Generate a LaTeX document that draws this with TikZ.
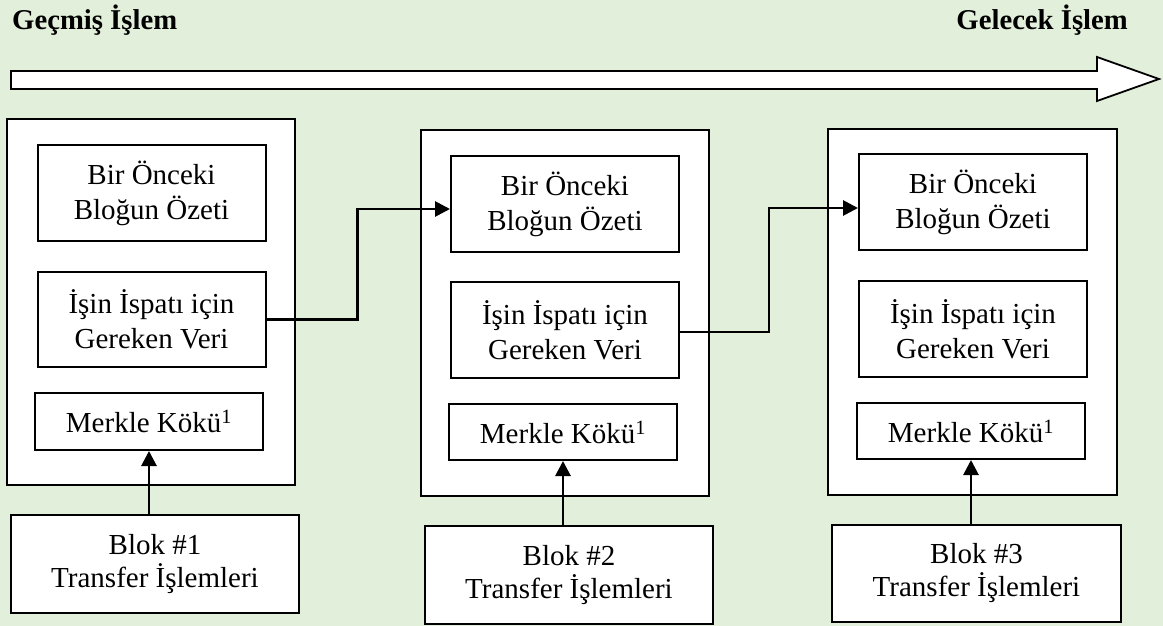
\documentclass[tikz,border=0pt]{standalone}
\usepackage{fontspec}
\setmainfont{Liberation Serif}
\usetikzlibrary{arrows.meta,calc}
\definecolor{bggreen}{HTML}{E2EFDA}
\tikzset{
  outerbox/.style={draw=black, fill=white, line width=2pt, minimum width=288pt, minimum height=366pt, inner sep=0pt},
  innerbox/.style={draw=black, fill=white, line width=2pt, minimum width=228pt, minimum height=96pt, inner sep=0pt, align=center, font=\fontsize{29}{35}\selectfont},
  merklebox/.style={draw=black, fill=white, line width=2pt, minimum width=228pt, minimum height=57pt, inner sep=0pt, align=center, font=\fontsize{29}{35}\selectfont},
  blokbox/.style={draw=black, fill=white, line width=2pt, minimum width=288pt, minimum height=98pt, inner sep=0pt, align=center, font=\fontsize{29}{33}\selectfont},
  titletext/.style={font=\fontsize{28.7}{34}\selectfont\bfseries, inner sep=0pt},
  conn/.style={line width=2.8pt, -{Triangle[length=15pt,width=15pt]}},
}
\begin{document}
\begin{tikzpicture}[x=1pt,y=-1pt]
\fill[bggreen] (0,0) rectangle (1163,626);
\useasboundingbox (0,0) rectangle (1163,626);

% titles
\node[titletext, anchor=base west] (past) at (12,30) {Geçmiş İşlem};
\node[titletext, anchor=base east] (future) at (1128,30) {Gelecek İşlem};

% timeline arrow
\draw[line width=1.8pt, fill=white, line join=miter]
  (11,71) -- (1097,71) -- (1097,57) -- (1159,79) -- (1097,101) -- (1097,89) -- (11,89) -- cycle;

% block 1
\node[outerbox] (o1) at (151,302) {};
\node[innerbox] (a1) at (151.5,193) {Bir Önceki\\Bloğun Özeti};
\node[innerbox, minimum height=95pt] (b1) at (151.5,319.5) {İşin İspatı için\\Gereken Veri};
\node[merklebox] (m1) at (149,421.5) {Merkle Kökü\textsuperscript{1}};
\node[blokbox] (t1) at (155,564) {Blok \#1\\Transfer İşlemleri};

% block 2
\node[outerbox] (o2) at (565,313) {};
\node[innerbox] (a2) at (565,204) {Bir Önceki\\Bloğun Özeti};
\node[innerbox] (b2) at (565,330) {İşin İspatı için\\Gereken Veri};
\node[merklebox, minimum height=56pt] (m2) at (563,432) {Merkle Kökü\textsuperscript{1}};
\node[blokbox] (t2) at (569,575) {Blok \#2\\Transfer İşlemleri};

% block 3
\node[outerbox, minimum width=289pt] (o3) at (972.5,312) {};
\node[innerbox] (a3) at (973,202) {Bir Önceki\\Bloğun Özeti};
\node[innerbox] (b3) at (973,329) {İşin İspatı için\\Gereken Veri};
\node[merklebox, minimum height=56pt] (m3) at (971,431) {Merkle Kökü\textsuperscript{1}};
\node[blokbox, minimum width=289pt, minimum height=97pt] (t3) at (976.5,573.5) {Blok \#3\\Transfer İşlemleri};

% vertical arrows
\draw[conn] (t1.north -| m1.south) -- (m1.south);
\draw[conn] (t2.north -| m2.south) -- (m2.south);
\draw[conn] (t3.north -| m3.south) -- (m3.south);

% chain connectors
\draw[conn] (b1.east) -- ++(91,0) |- ([yshift=-5pt]a2.west);
\draw[conn] ([yshift=-2pt]b2.east) -- ++(89,0) |- ([yshift=-6pt]a3.west);
\end{tikzpicture}
\end{document}
